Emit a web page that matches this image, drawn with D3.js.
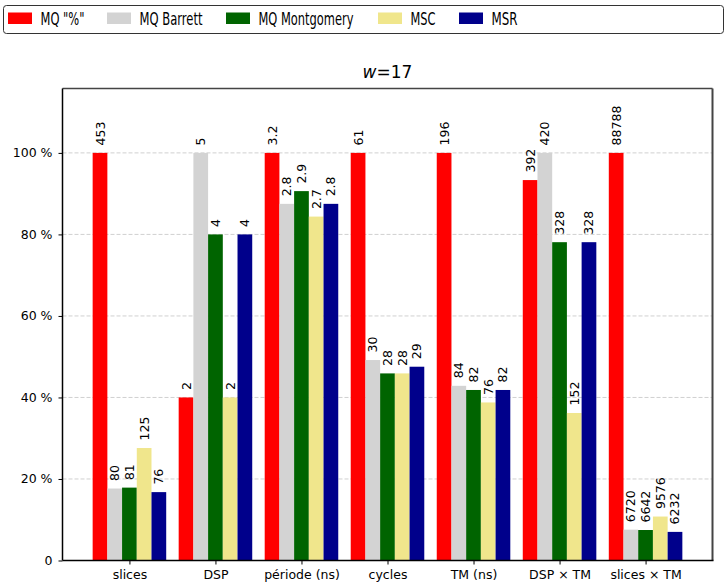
<!DOCTYPE html>
<html>
<head>
<meta charset="utf-8">
<script src="https://cdn.jsdelivr.net/npm/d3@7"></script>
<style>
  html, body { margin: 0; padding: 0; background: #fff; }
  svg { display: block; font-family: "DejaVu Sans", sans-serif; }
</style>
</head>
<body>
<svg id="chart" width="727" height="586"></svg>
<script>
// Metrics compared across the five modular-reduction designs
const categories = ["slices", "DSP", "période (ns)", "cycles", "TM (ns)", "DSP × TM", "slices × TM"];
const seriesNames = ["MQ \"%\"", "MQ Barrett", "MQ Montgomery", "MSC", "MSR"];
const seriesColors = ["#ff0000", "#d3d3d3", "#006400", "#f0e68c", "#00008b"];

// Raw values per series, one entry per category
const mqMod        = [453, 2, 3.2, 61, 196, 392, 88788];
const mqBarrett    = [80, 5, 2.8, 30, 84, 420, 6720];
const mqMontgomery = [81, 4, 2.9, 28, 82, 328, 6642];
const msc          = [125, 2, 2.7, 28, 76, 152, 9576];
const msr          = [76, 4, 2.8, 29, 82, 328, 6232];
const seriesValues = [mqMod, mqBarrett, mqMontgomery, msc, msr];

const yTicks = [0, 20, 40, 60, 80, 100];
const yTickLabels = ["0", "20 %", "40 %", "60 %", "80 %", "100 %"];

const svg = d3.select("#chart");
const m = { left: 62.5, right: 712.5, top: 88.5, bottom: 560.5 };

// Each bar is expressed as a percentage of the largest value in its category
const groupMax = categories.map((c, i) => d3.max(seriesValues, s => s[i]));

const barW = 0.171;
const x = d3.scaleLinear().domain([-0.778, 6.778]).range([m.left, m.right]);
const y = d3.scaleLinear().domain([0, 115.8]).range([m.bottom, m.top]);

// Grid lines
svg.append("g").selectAll("line")
  .data(yTicks.filter(t => t > 0))
  .join("line")
  .attr("x1", m.left).attr("x2", m.right)
  .attr("y1", d => y(d)).attr("y2", d => y(d))
  .attr("stroke", "#d0d0d0").attr("stroke-width", 1)
  .attr("stroke-dasharray", "4,2");

// Bars and value labels
const bars = [];
seriesValues.forEach((s, si) => {
  s.forEach((v, ci) => {
    bars.push({ si, ci, v, pct: v / groupMax[ci] * 100, cx: ci + (si - 2) * barW });
  });
});

svg.append("g").selectAll("rect")
  .data(bars)
  .join("rect")
  .attr("x", d => x(d.cx - barW / 2))
  .attr("width", d => x(d.cx + barW / 2) - x(d.cx - barW / 2))
  .attr("y", d => y(d.pct))
  .attr("height", d => y(0) - y(d.pct))
  .attr("fill", d => seriesColors[d.si]);

svg.append("g").selectAll("text")
  .data(bars)
  .join("text")
  .attr("transform", d => `translate(${x(d.cx) + 4.5},${y(d.pct) - 7.5}) rotate(-90)`)
  .attr("font-size", 12.5)
  .attr("fill", "#000")
  .text(d => String(d.v));

// Axes
const xAxis = d3.axisBottom(x)
  .tickValues(d3.range(categories.length))
  .tickFormat(i => categories[i])
  .tickSize(4).tickPadding(6);
const gx = svg.append("g").attr("transform", `translate(0,${m.bottom})`).call(xAxis);
gx.select(".domain").remove();
gx.selectAll("text").attr("font-size", 12.5).attr("fill", "#000").attr("font-family", "DejaVu Sans");
gx.selectAll("line").attr("stroke", "#000");

const yAxis = d3.axisLeft(y)
  .tickValues(yTicks)
  .tickFormat((d, i) => yTickLabels[i])
  .tickSize(4).tickPadding(6);
const gy = svg.append("g").attr("transform", `translate(${m.left},0)`).call(yAxis);
gy.select(".domain").remove();
gy.selectAll("text").attr("font-size", 12.5).attr("fill", "#000").attr("font-family", "DejaVu Sans");
gy.selectAll("line").attr("stroke", "#000");

// Frame
svg.append("line").attr("x1", m.left).attr("x2", m.right).attr("y1", m.top).attr("y2", m.top)
  .attr("stroke", "#444").attr("stroke-width", 1.5);
svg.append("line").attr("x1", m.right).attr("x2", m.right).attr("y1", m.top).attr("y2", m.bottom)
  .attr("stroke", "#444").attr("stroke-width", 2);
svg.append("line").attr("x1", m.left).attr("x2", m.left).attr("y1", m.top).attr("y2", m.bottom)
  .attr("stroke", "#000").attr("stroke-width", 1.5);
svg.append("line").attr("x1", m.left).attr("x2", m.right + 1).attr("y1", m.bottom).attr("y2", m.bottom)
  .attr("stroke", "#000").attr("stroke-width", 1.5);

// Title
const title = svg.append("text")
  .attr("x", (m.left + m.right) / 2).attr("y", 78)
  .attr("text-anchor", "middle").attr("font-size", 17).attr("fill", "#000");
title.append("tspan").attr("font-style", "italic").text("w");
title.append("tspan").text("=17");

// Legend (narrow, tall lettering)
svg.append("rect").attr("x", 3.5).attr("y", 5.5).attr("width", 720).attr("height", 28)
  .attr("rx", 3).attr("fill", "#fff").attr("stroke", "#333").attr("stroke-width", 1);
const legendX = [8, 107, 226, 378, 459];
const legendTextW = [44, 63, 95, 25, 26];
const lg = svg.append("g").selectAll("g")
  .data(seriesNames)
  .join("g")
  .attr("transform", (d, i) => `translate(${legendX[i]},0)`);
lg.append("rect").attr("x", 0).attr("y", 12.5).attr("width", 24).attr("height", 11.5)
  .attr("fill", (d, i) => seriesColors[i]);
lg.append("text").attr("x", 32.5).attr("y", 24.7).attr("font-size", 17).attr("fill", "#000")
  .attr("textLength", (d, i) => legendTextW[i])
  .attr("lengthAdjust", "spacingAndGlyphs")
  .text(d => d);
</script>
</body>
</html>
